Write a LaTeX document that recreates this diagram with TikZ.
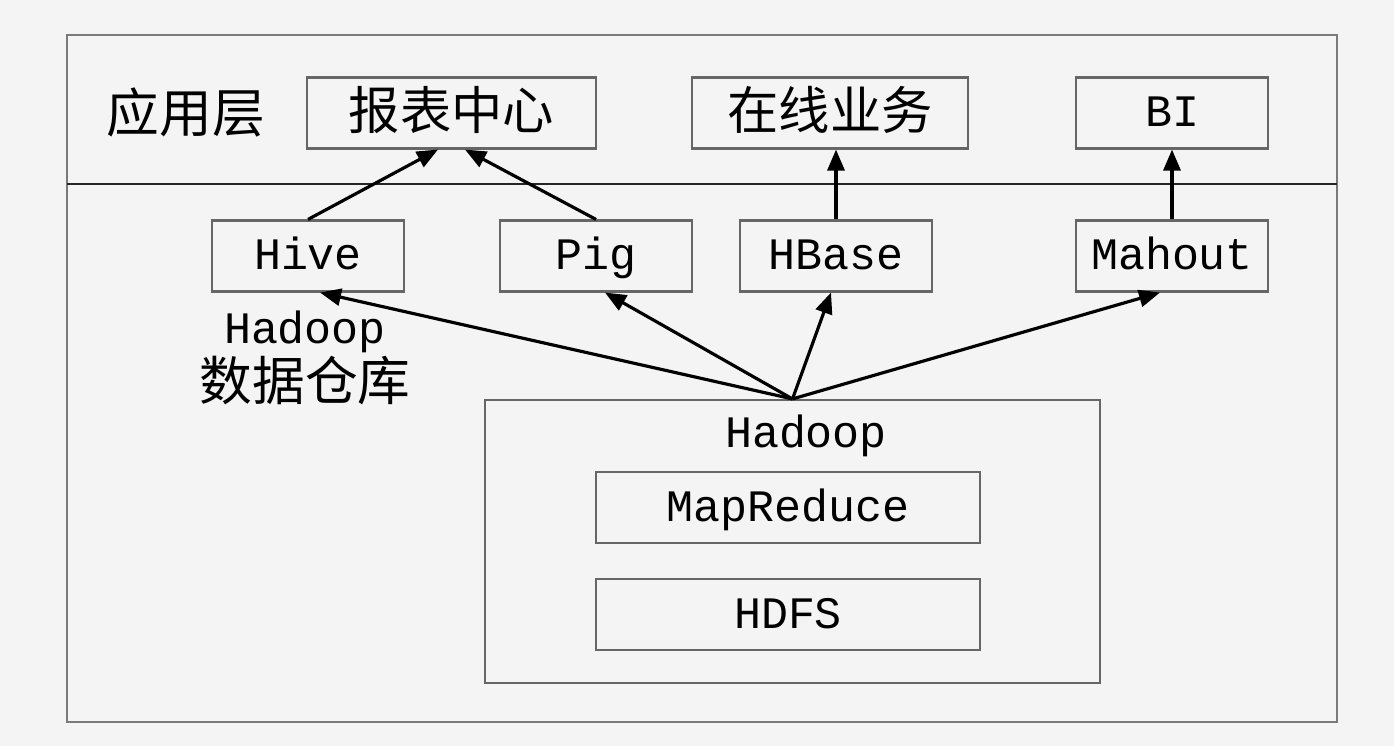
\documentclass[tikz,border=0pt]{standalone}
\usepackage{fontspec}
\usepackage{tikz}
\usetikzlibrary{arrows.meta}
\setmainfont{Liberation Mono}
\newfontfamily\cjk{Noto Sans CJK SC}
\definecolor{bggray}{HTML}{F4F4F4}
\definecolor{boxgray}{HTML}{666666}
\definecolor{framegray}{HTML}{7A7A7A}

\begin{document}
\begin{tikzpicture}[
    box/.style={draw=boxgray, line width=0.6pt, minimum height=0.71cm, inner sep=0pt, text height=0.28cm, text depth=0cm, font=\fontsize{12.8pt}{15pt}\selectfont},
    cjkbox/.style={box, text height=0.4cm, text depth=0.06cm, font=\cjk\fontsize{14.6pt}{17pt}\selectfont},
    link/.style={line width=0.9pt, -{Triangle[length=0.21cm, width=0.17cm]}}]
        \fill[bggray] (0,0) rectangle (13.94,-7.46);
        \useasboundingbox (0,0) rectangle (13.94,-7.46);
        \draw[framegray, line width=0.6pt] (0.67,-0.35) rectangle (13.37,-7.22);
        \draw[black!85, line width=0.7pt] (0.67,-1.84) -- (13.37,-1.84);

        \node[font=\cjk\fontsize{15pt}{17pt}\selectfont] (applayer) at (1.86,-1.13) {应用层};
        \node[cjkbox, minimum width=2.89cm] (report) at (4.515,-1.13) {报表中心};
        \node[cjkbox, minimum width=2.76cm] (online) at (8.30,-1.13) {在线业务};
        \node[box, minimum width=1.92cm] (bi) at (11.72,-1.13) {BI};

        \node[box, minimum width=1.92cm] (hive) at (3.08,-2.56) {Hive};
        \node[box, minimum width=1.92cm] (pig) at (5.96,-2.56) {Pig};
        \node[box, minimum width=1.92cm] (hbase) at (8.36,-2.56) {HBase};
        \node[box, minimum width=1.92cm] (mahout) at (11.72,-2.56) {Mahout};

        \node[align=center, font=\fontsize{12.8pt}{14pt}\selectfont] (warehouse) at (3.05,-3.58)
          {Hadoop\\[0pt]{\cjk\fontsize{15pt}{17pt}\selectfont 数据仓库}};

        \node[draw=boxgray, line width=0.6pt, minimum width=6.15cm, minimum height=2.83cm] (hadoop) at (7.925,-5.415) {};
        \node[font=\fontsize{12.8pt}{15pt}\selectfont] (hadooplabel) at (8.06,-4.36) {Hadoop};
        \node[box, minimum width=3.84cm] (mapreduce) at (7.88,-5.075) {MapReduce};
        \node[box, minimum width=3.84cm] (hdfs) at (7.88,-6.145) {HDFS};

        \draw[link] (hive.north) -- ([xshift=-0.135cm]report.south);
        \draw[link] (pig.north) -- ([xshift=0.135cm]report.south);
        \draw[link] (hbase.north) -- (hbase.north |- online.south);
        \draw[link] (mahout.north) -- (bi.south);

        \draw[link] (hadoop.north) -- ([xshift=0.12cm]hive.south);
        \draw[link] (hadoop.north) -- ([xshift=0.09cm]pig.south);
        \draw[link] (hadoop.north) -- ([xshift=-0.05cm]hbase.south);
        \draw[link] (hadoop.north) -- ([xshift=-0.12cm]mahout.south);
      \end{tikzpicture}
\end{document}
